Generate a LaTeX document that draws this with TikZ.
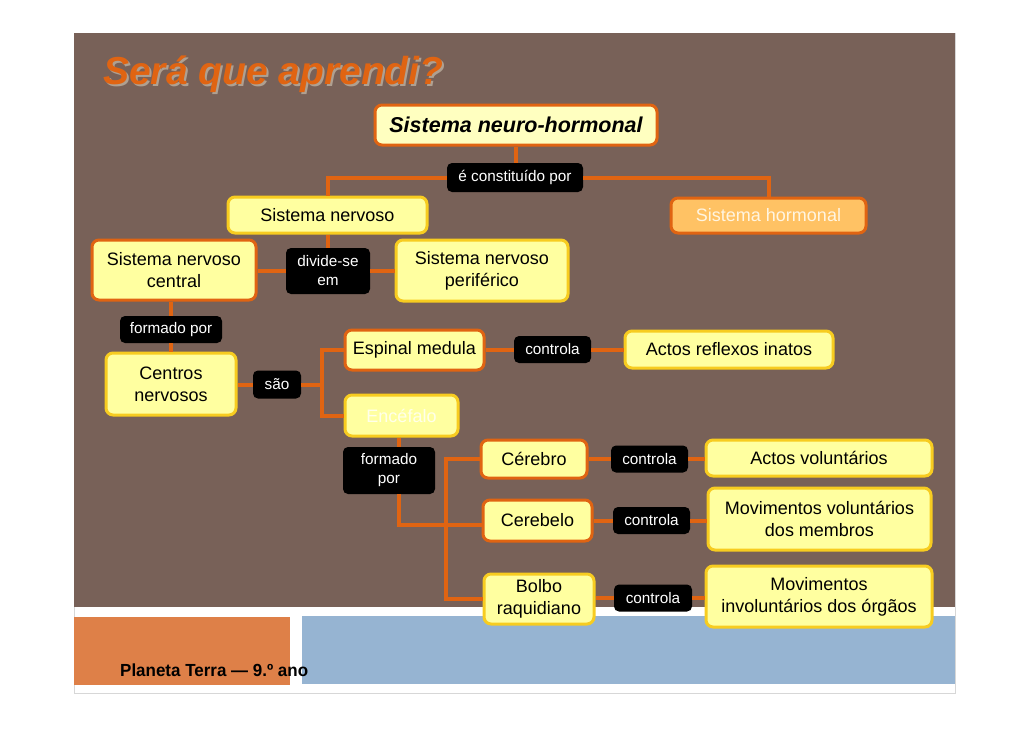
\documentclass[tikz,border=0pt]{standalone}
\usepackage{fontspec}
\setmainfont{Liberation Sans}
\definecolor{bgbrown}{RGB}{120,97,88}
\definecolor{lineO}{RGB}{224,100,18}
\definecolor{bordY}{RGB}{247,204,32}
\definecolor{fillY}{RGB}{255,255,160}
\definecolor{fillT}{RGB}{255,255,192}
\definecolor{fillH}{RGB}{255,194,100}
\definecolor{footO}{RGB}{222,128,72}
\definecolor{footB}{RGB}{150,180,210}
\definecolor{frameG}{RGB}{215,215,215}
\definecolor{titleShadow}{RGB}{175,160,145}
\begin{document}
\begin{tikzpicture}[x=1pt,y=-1pt,
  box/.style={rounded corners=7pt, line width=3pt, fill=fillY, align=center, inner sep=0pt,
    text=black, font=\fontsize{18}{22}\selectfont},
  obox/.style={box, draw=lineO},
  ybox/.style={box, draw=bordY},
  lab/.style={rounded corners=5pt, fill=black, text=white, align=center, inner sep=0pt,
    font=\fontsize{15.3}{19}\selectfont},
  conn/.style={draw=lineO, line width=4pt}]
\useasboundingbox (0,0) rectangle (1030,728);
% slide background
\fill[white] (0,0) rectangle (1030,728);
\draw[frameG, line width=1pt] (74,33) rectangle (955,693);
\fill[bgbrown] (74,33) rectangle (955,607);
\fill[footO] (74,617) rectangle (290,685);
\fill[footB] (302,616) rectangle (955,684);
% title
\node[anchor=base west, text=titleShadow, inner sep=0pt, font=\fontsize{39}{44}\selectfont\bfseries\itshape] (titles) at (105,86) {Será que aprendi?};
\node[anchor=base west, text=lineO, inner sep=0pt, font=\fontsize{39}{44}\selectfont\bfseries\itshape] (title) at (103,84) {Será que aprendi?};
% nodes
\node[obox, fill=fillT, minimum width=282pt, minimum height=40pt, font=\fontsize{21.5}{25}\selectfont\bfseries\itshape] (top) at (516,125) {Sistema neuro-hormonal};
\node[lab, minimum width=136pt, minimum height=29pt] (l1) at (515,177.5) {é constituído por};
\node[ybox, minimum width=199pt, minimum height=36pt] (sn) at (327.5,215) {Sistema nervoso};
\node[obox, fill=fillH, text={rgb,255:red,255;green,245;blue,225}, minimum width=195pt, minimum height=35pt] (sh) at (768.5,215.5) {Sistema hormonal};
\node[lab, minimum width=84pt, minimum height=46pt] (l2) at (328,271) {divide-se\\em};
\node[obox, minimum width=164pt, minimum height=60pt] (snc) at (174,270) {Sistema nervoso\\central};
\node[ybox, minimum width=172pt, minimum height=61pt] (snp) at (482,270.5) {Sistema nervoso\\periférico};
\node[lab, minimum width=102pt, minimum height=27pt] (l3) at (171,329.5) {formado por};
\node[ybox, minimum width=130pt, minimum height=62pt] (cn) at (171,384) {Centros\\nervosos};
\node[lab, minimum width=48pt, minimum height=28pt] (l4) at (277,384.5) {são};
\node[obox, minimum width=139pt, minimum height=40pt] (em) at (414.5,350) {Espinal medula};
\node[lab, minimum width=77pt, minimum height=27pt] (l5) at (552.5,349.5) {controla};
\node[ybox, minimum width=208pt, minimum height=37pt] (arf) at (729,349.5) {Actos reflexos inatos};
\node[ybox, text={rgb,255:red,255;green,255;blue,235}, minimum width=113pt, minimum height=41pt] (enc) at (401.5,415.5) {Encéfalo};
\node[lab, minimum width=92pt, minimum height=47pt] (l6) at (389,470.5) {formado\\por};
\node[obox, minimum width=106pt, minimum height=38pt] (cer) at (534,459) {Cérebro};
\node[lab, minimum width=77pt, minimum height=27pt] (l7) at (649.5,459) {controla};
\node[ybox, minimum width=226pt, minimum height=36pt] (av) at (819,458) {Actos voluntários};
\node[obox, minimum width=109pt, minimum height=41pt] (cbl) at (537.5,520.5) {Cerebelo};
\node[lab, minimum width=77pt, minimum height=27pt] (l8) at (651.5,520.5) {controla};
\node[ybox, minimum width=223pt, minimum height=62pt] (mvm) at (819.5,519) {Movimentos voluntários\\dos membros};
\node[ybox, minimum width=110pt, minimum height=50pt] (bol) at (539,599) {Bolbo\\raquidiano};
\node[lab, minimum width=78pt, minimum height=27pt] (l9) at (653,598) {controla};
\node[ybox, minimum width=226pt, minimum height=61pt] (mio) at (819,596.5) {Movimentos\\involuntários dos órgãos};
% junction coordinates
\coordinate (j1) at (322,384.5);
\coordinate (j2) at (399,525);
\coordinate (j3) at (446,525);
% connectors
\draw[conn] (top.south) -- (l1.north -| top.south);
\draw[conn] (l1.west) -| (sn.north);
\draw[conn] (l1.east) -| (sh.north);
\draw[conn] (sn.south) -- (l2.north -| sn.south);
\draw[conn] (l2.west) -- (l2.west -| snc.east);
\draw[conn] (l2.east) -- (l2.east -| snp.west);
\draw[conn] (l3.north) -- (l3.north |- snc.south);
\draw[conn] (l3.south) -- (cn.north);
\draw[conn] (cn.east |- l4.west) -- (l4.west);
\draw[conn] (l4.east) -- (j1);
\draw[conn] (em.west) -| (j1) |- (enc.west);
\draw[conn] (l5.west -| em.east) -- (l5.west);
\draw[conn] (l5.east) -- (l5.east -| arf.west);
\draw[conn] (j2 |- enc.south) -- (j2 |- l6.north);
\draw[conn] (j2 |- l6.south) -- (j2) -- (j3);
\draw[conn] (cer.west) -| (j3) |- (bol.west);
\draw[conn] (j3) -- (j3 -| cbl.west);
\draw[conn] (l7.west -| cer.east) -- (l7.west);
\draw[conn] (l7.east) -- (l7.east -| av.west);
\draw[conn] (l8.west -| cbl.east) -- (l8.west);
\draw[conn] (l8.east) -- (l8.east -| mvm.west);
\draw[conn] (l9.west -| bol.east) -- (l9.west);
\draw[conn] (l9.east) -- (l9.east -| mio.west);
% footer
\node[anchor=base west, inner sep=0pt, font=\fontsize{17.5}{20}\selectfont\bfseries] (foot) at (120,676) {\scalebox{0.97}[1]{Planeta Terra — 9.º ano}};
\end{tikzpicture}
\end{document}
